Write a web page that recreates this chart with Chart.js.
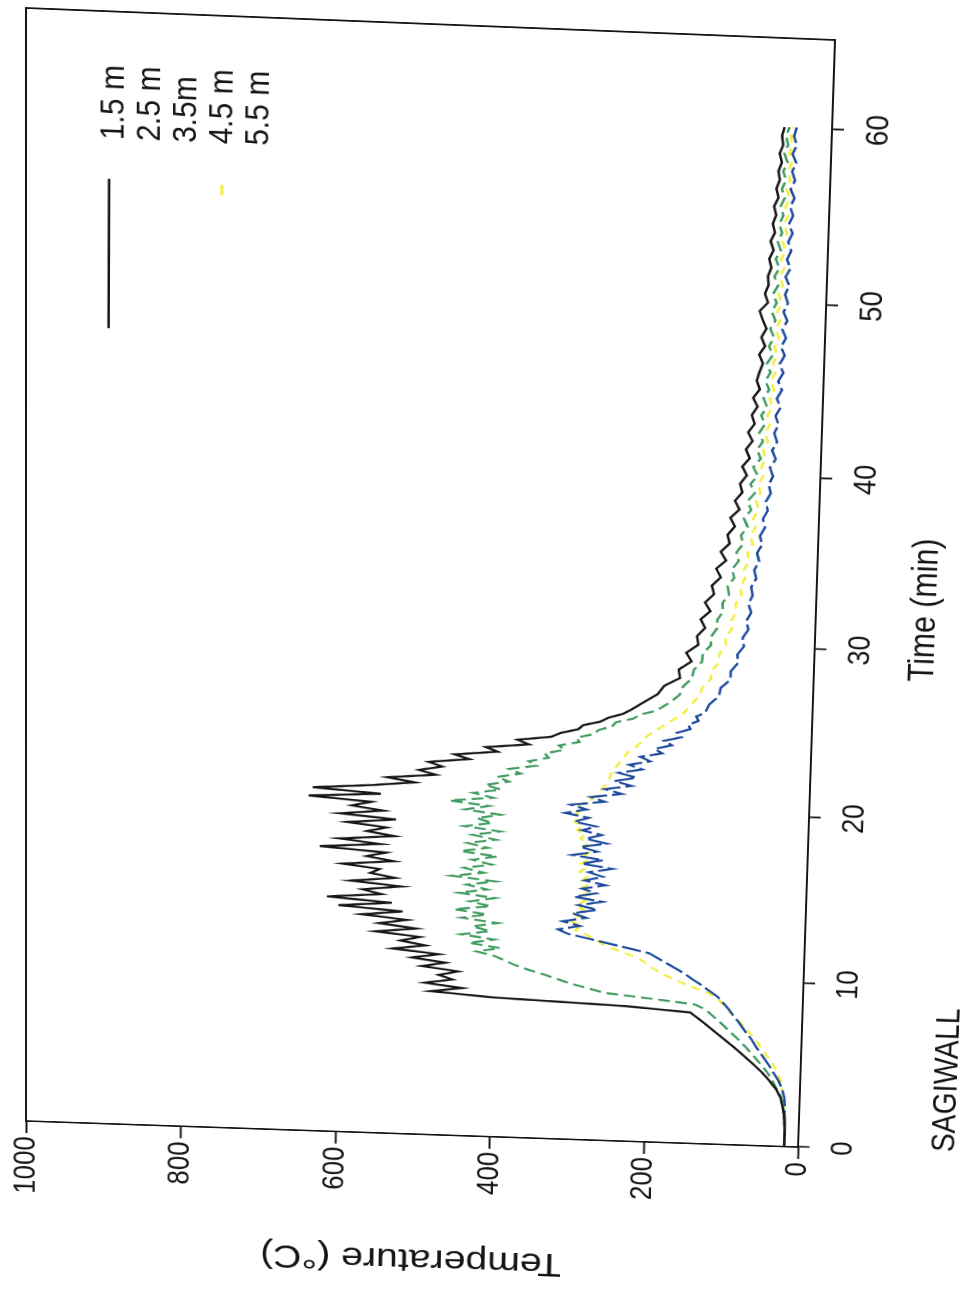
<!DOCTYPE html>
<html>
<head>
<meta charset="utf-8">
<title>SAGIWALL temperatures</title>
<script src="https://cdn.jsdelivr.net/npm/chart.js@4.4.1/dist/chart.umd.min.js"></script>
<style>
  html, body { margin: 0; padding: 0; background: #fff; overflow: hidden; }
  body { width: 971px; height: 1298px; position: relative; }
  #wrap { position: absolute; left: 0; top: 0; width: 1520px; height: 1010px; transform-origin: 0 0; }
  canvas { display: block; }
</style>
</head>
<body>
<div id="wrap"><canvas id="chart" width="1520" height="1010"></canvas></div>
<script>
// Fire test thermocouple traces
const timeMin = [
  0, 0.5, 1, 1.5, 2, 2.5, 3, 3.5, 4, 4.5, 5, 5.5, 6, 6.5, 7, 7.5, 8,
  8.25, 8.5, 8.75, 9, 9.25, 9.5, 9.75, 10, 10.25, 10.5, 10.75, 11, 11.25, 11.5, 11.75, 12,
  12.25, 12.5, 12.75, 13, 13.25, 13.5, 13.75, 14, 14.25, 14.5, 14.75, 15, 15.25, 15.5, 15.75, 16,
  16.25, 16.5, 16.75, 17, 17.25, 17.5, 17.75, 18, 18.25, 18.5, 18.75, 19, 19.25, 19.5, 19.75, 20,
  20.25, 20.5, 20.75, 21, 21.25, 21.5, 21.75, 22, 22.25, 22.5, 22.75, 23, 23.25, 23.5, 23.75, 24,
  24.25, 24.5, 24.75, 25, 25.25, 25.5, 25.75, 26,
  26.5, 27, 27.5, 28, 28.5, 29, 29.5, 30, 30.5, 31,
  31.5, 32, 32.5, 33, 33.5, 34, 34.5, 35, 35.5, 36,
  36.5, 37, 37.5, 38, 38.5, 39, 39.5, 40, 40.5, 41,
  41.5, 42, 42.5, 43, 43.5, 44, 44.5, 45, 45.5, 46,
  46.5, 47, 47.5, 48, 48.5, 49, 49.5, 50, 50.5, 51,
  51.5, 52, 52.5, 53, 53.5, 54, 54.5, 55, 55.5, 56,
  56.5, 57, 57.5, 58, 58.5, 59, 59.5, 60
];

const temp15 = [
  18, 18, 18, 19, 20, 22, 25, 31, 40, 50, 62, 75, 88, 102, 116, 130, 145,
  230, 400, 480, 440, 488, 452, 470, 445, 492, 462, 505, 470, 530, 488, 520, 495,
  552, 500, 548, 512, 570, 518, 600, 532, 615, 545, 570, 520, 585, 528, 560, 548,
  595, 530, 565, 540, 625, 548, 600, 530, 565, 540, 590, 528, 600, 545, 585, 560,
  640, 548, 635, 560, 505, 540, 478, 500, 470, 488, 436, 455, 400, 415, 360, 375,
  332, 320, 298, 292, 270, 260, 242, 232,
  215, 198, 190, 170, 172, 156, 163, 148, 150, 140,
  146, 134, 141, 130, 133, 122, 128, 116, 123, 112,
  115, 106, 112, 101, 107, 98, 101, 93, 99, 90,
  95, 87, 93, 85, 89, 82, 88, 80, 84, 81,
  77, 82, 75, 80, 74, 79, 83, 73, 77, 73,
  74, 70, 73, 68, 72, 67, 70, 66, 69, 64,
  67, 63, 65, 61, 64, 60, 62, 59
];

const temp25 = [
  18, 18, 18, 19, 20, 21, 24, 30, 36, 43, 52, 62, 72, 83, 95, 107, 120,
  127, 140, 195, 255, 278, 300, 318, 335, 355, 372, 385, 398, 422, 392, 432, 400,
  442, 405, 428, 396, 442, 410, 452, 405, 432, 400, 446, 410, 436, 400, 455, 415,
  440, 405, 430, 398, 445, 410, 436, 400, 430, 395, 440, 405, 425, 395, 440, 410,
  460, 405, 430, 395, 415, 385, 400, 370, 385, 350, 360, 335, 340, 315, 322, 296,
  300, 278, 272, 255, 250, 228, 220, 200,
  183, 170, 166, 155, 153, 143, 142, 132, 132, 125,
  125, 118, 119, 111, 113, 105, 108, 100, 103, 95,
  98, 90, 95, 86, 91, 82, 88, 79, 85, 76,
  81, 74, 79, 72, 77, 70, 75, 68, 73, 67,
  72, 65, 70, 64, 69, 63, 68, 62, 67, 61,
  66, 60, 65, 59, 63, 58, 62, 57, 61, 56,
  60, 55, 59, 54, 58, 54, 57, 53
];

const temp45 = [
  18, 18, 18, 18, 19, 20, 21, 23, 25, 30, 36, 44, 52, 60, 70, 80, 92,
  97, 102, 107, 112, 125, 140, 155, 168, 181, 191, 200, 207, 218, 234, 250, 262,
  272, 282, 296, 288, 300, 290, 298, 286, 295, 284, 292, 282, 290, 280, 288, 282,
  292, 284, 290, 280, 286, 278, 288, 282, 292, 286, 296, 290, 300, 292, 298, 290,
  295, 282, 276, 270, 265, 262, 258, 256, 254, 251, 246, 242, 238, 234, 226, 220,
  214, 210, 203, 194, 186, 178, 170, 163,
  154, 145, 141, 131, 130, 121, 121, 113, 114, 106,
  107, 101, 102, 95, 97, 91, 93, 87, 89, 83,
  86, 80, 83, 77, 80, 75, 78, 72, 75, 70,
  73, 68, 71, 66, 69, 64, 67, 62, 66, 61,
  64, 60, 63, 58, 62, 57, 61, 56, 60, 55,
  59, 54, 58, 53, 57, 52, 56, 51, 55, 50,
  54, 50, 53, 49, 52, 49, 51, 48
];

const temp55 = [
  18, 18, 18, 18, 19, 19, 20, 23, 28, 35, 42, 50, 58, 65, 74, 82, 91,
  95, 100, 105, 110, 118, 126, 134, 143, 151, 160, 170, 180, 190, 200, 226, 252,
  278, 305, 318, 290, 312, 282, 300, 268, 292, 262, 298, 270, 288, 258, 285, 262,
  280, 250, 290, 262, 302, 270, 292, 258, 285, 265, 290, 272, 300, 282, 312, 285,
  305, 262, 280, 240, 262, 228, 250, 222, 245, 215, 232, 205, 218, 190, 200, 178,
  188, 166, 172, 155, 158, 145, 148, 137,
  132, 120, 118, 106, 106, 97, 98, 90, 92, 85,
  88, 82, 86, 81, 83, 77, 80, 74, 77, 71,
  74, 68, 71, 65, 68, 62, 65, 60, 64, 57,
  62, 56, 60, 55, 59, 53, 58, 52, 57, 51,
  56, 50, 55, 49, 54, 48, 53, 48, 52, 47,
  52, 46, 51, 46, 50, 45, 50, 45, 49, 44,
  49, 44, 48, 43, 48, 43, 47, 44
];

const seriesLabels = ['1.5 m', '2.5 m', '3.5m', '4.5 m', '5.5 m'];
const timeTicks = [0, 10, 20, 30, 40, 50, 60];
const tempTicks = [0, 200, 400, 600, 800, 1000];

// where the plot frame sits on the (rotated, slightly skewed) scan:
// [t=0,T=1000], [t=65,T=1000], [t=65,T=0], [t=0,T=0]
const frameCorners = [[26, 1121], [26, 8], [835, 40], [798, 1147]];

const FONT = '"Liberation Sans", Arial, Helvetica, sans-serif';
const INK = '#151515';

const pts = arr => timeMin.map((t, i) => ({ x: t, y: arr[i] }));

// frame + legend + footnote drawn on the canvas
const extras = {
  id: 'extras',
  afterDraw(chart) {
    const { ctx, chartArea: a, scales: { x, y } } = chart;
    ctx.save();
    ctx.strokeStyle = INK;
    ctx.lineWidth = 2;
    ctx.strokeRect(a.left, a.top, a.right - a.left, a.bottom - a.top);

    // legend, placed in data units
    ctx.font = `34px ${FONT}`;
    ctx.fillStyle = INK;
    ctx.textAlign = 'left';
    ctx.textBaseline = 'middle';
    seriesLabels.forEach((lab, i) => {
      ctx.fillText(lab, x.getPixelForValue(57.8), y.getPixelForValue(891 - i * 45));
    });
    ctx.beginPath();
    ctx.lineWidth = 2.5;
    ctx.moveTo(x.getPixelForValue(47.1), y.getPixelForValue(897));
    ctx.lineTo(x.getPixelForValue(55.6), y.getPixelForValue(897));
    ctx.stroke();
    ctx.beginPath();
    ctx.strokeStyle = '#f2ee3c';
    ctx.lineWidth = 3;
    ctx.moveTo(x.getPixelForValue(54.9), y.getPixelForValue(757));
    ctx.lineTo(x.getPixelForValue(55.5), y.getPixelForValue(757));
    ctx.stroke();

    ctx.font = `35px ${FONT}`;
    ctx.fillStyle = INK;
    ctx.fillText('SAGIWALL', x.getPixelForValue(0), a.bottom + 153);
    ctx.restore();
  }
};

const ctx = document.getElementById('chart').getContext('2d');
const chart = new Chart(ctx, {
  type: 'line',
  data: {
    datasets: [
      { label: seriesLabels[0], data: pts(temp15), borderColor: '#161616', borderWidth: 2.5, order: 1 },
      { label: seriesLabels[1], data: pts(temp25), borderColor: '#3f9b5f', borderWidth: 2.5, borderDash: [12, 6], order: 2 },
      { label: seriesLabels[4], data: pts(temp55), borderColor: '#1d4a9e', borderWidth: 2.5, borderDash: [20, 5], order: 3 },
      { label: seriesLabels[3], data: pts(temp45), borderColor: '#f2ee3c', borderWidth: 2.5, borderDash: [9, 7], order: 4 }
    ]
  },
  options: {
    responsive: false,
    animation: false,
    devicePixelRatio: 1,
    elements: { point: { radius: 0 }, line: { tension: 0, fill: false } },
    layout: { padding: { top: 30, right: 14, bottom: 37, left: 12 } },
    plugins: { legend: { display: false }, tooltip: { enabled: false } },
    scales: {
      x: {
        type: 'linear',
        min: 0,
        max: 65,
        afterBuildTicks: s => { s.ticks = timeTicks.map(v => ({ value: v })); },
        afterFit: s => { s.height = 140; },
        border: { display: true, color: INK, width: 2 },
        grid: { drawOnChartArea: false, drawTicks: true, tickLength: 12, tickWidth: 2, tickColor: INK },
        ticks: { color: INK, font: { family: FONT, size: 32 }, padding: 16, maxRotation: 0, autoSkip: false,
                 callback: v => String(v) },
        title: { display: true, text: 'Time (min)', color: INK, font: { family: FONT, size: 36 }, padding: { top: 0, bottom: 6 } }
      },
      y: {
        type: 'linear',
        min: 0,
        max: 1000,
        afterBuildTicks: s => { s.ticks = tempTicks.map(v => ({ value: v })); },
        afterFit: s => { s.width = 180; },
        border: { display: true, color: INK, width: 2 },
        grid: { drawOnChartArea: false, drawTicks: true, tickLength: 15, tickWidth: 2, tickColor: INK },
        ticks: { color: INK, font: { family: FONT, size: 32 }, padding: 4, callback: v => String(v) },
        title: { display: true, text: 'Temperature (°C)', color: INK, font: { family: FONT, size: 41 }, padding: { top: 0, bottom: 0 } }
      }
    }
  },
  plugins: [extras]
});

// map the chart area onto the rotated frame of the scan (projective fit, 4 corners)
function solveHomography(src, dst) {
  const A = [], B = [];
  for (let i = 0; i < 4; i++) {
    const [x, y] = src[i], [X, Y] = dst[i];
    A.push([x, y, 1, 0, 0, 0, -x * X, -y * X]); B.push(X);
    A.push([0, 0, 0, x, y, 1, -x * Y, -y * Y]); B.push(Y);
  }
  const n = 8;
  for (let c = 0; c < n; c++) {
    let p = c;
    for (let r = c + 1; r < n; r++) if (Math.abs(A[r][c]) > Math.abs(A[p][c])) p = r;
    [A[c], A[p]] = [A[p], A[c]];
    [B[c], B[p]] = [B[p], B[c]];
    for (let r = 0; r < n; r++) {
      if (r === c) continue;
      const f = A[r][c] / A[c][c];
      for (let k = c; k < n; k++) A[r][k] -= f * A[c][k];
      B[r] -= f * B[c];
    }
  }
  return B.map((b, i) => b / A[i][i]);
}

const a = chart.chartArea;
const h = solveHomography(
  [[a.left, a.top], [a.right, a.top], [a.right, a.bottom], [a.left, a.bottom]],
  frameCorners
);
document.getElementById('wrap').style.transform =
  `matrix3d(${h[0]},${h[3]},0,${h[6]},${h[1]},${h[4]},0,${h[7]},0,0,1,0,${h[2]},${h[5]},0,1)`;
</script>
</body>
</html>
